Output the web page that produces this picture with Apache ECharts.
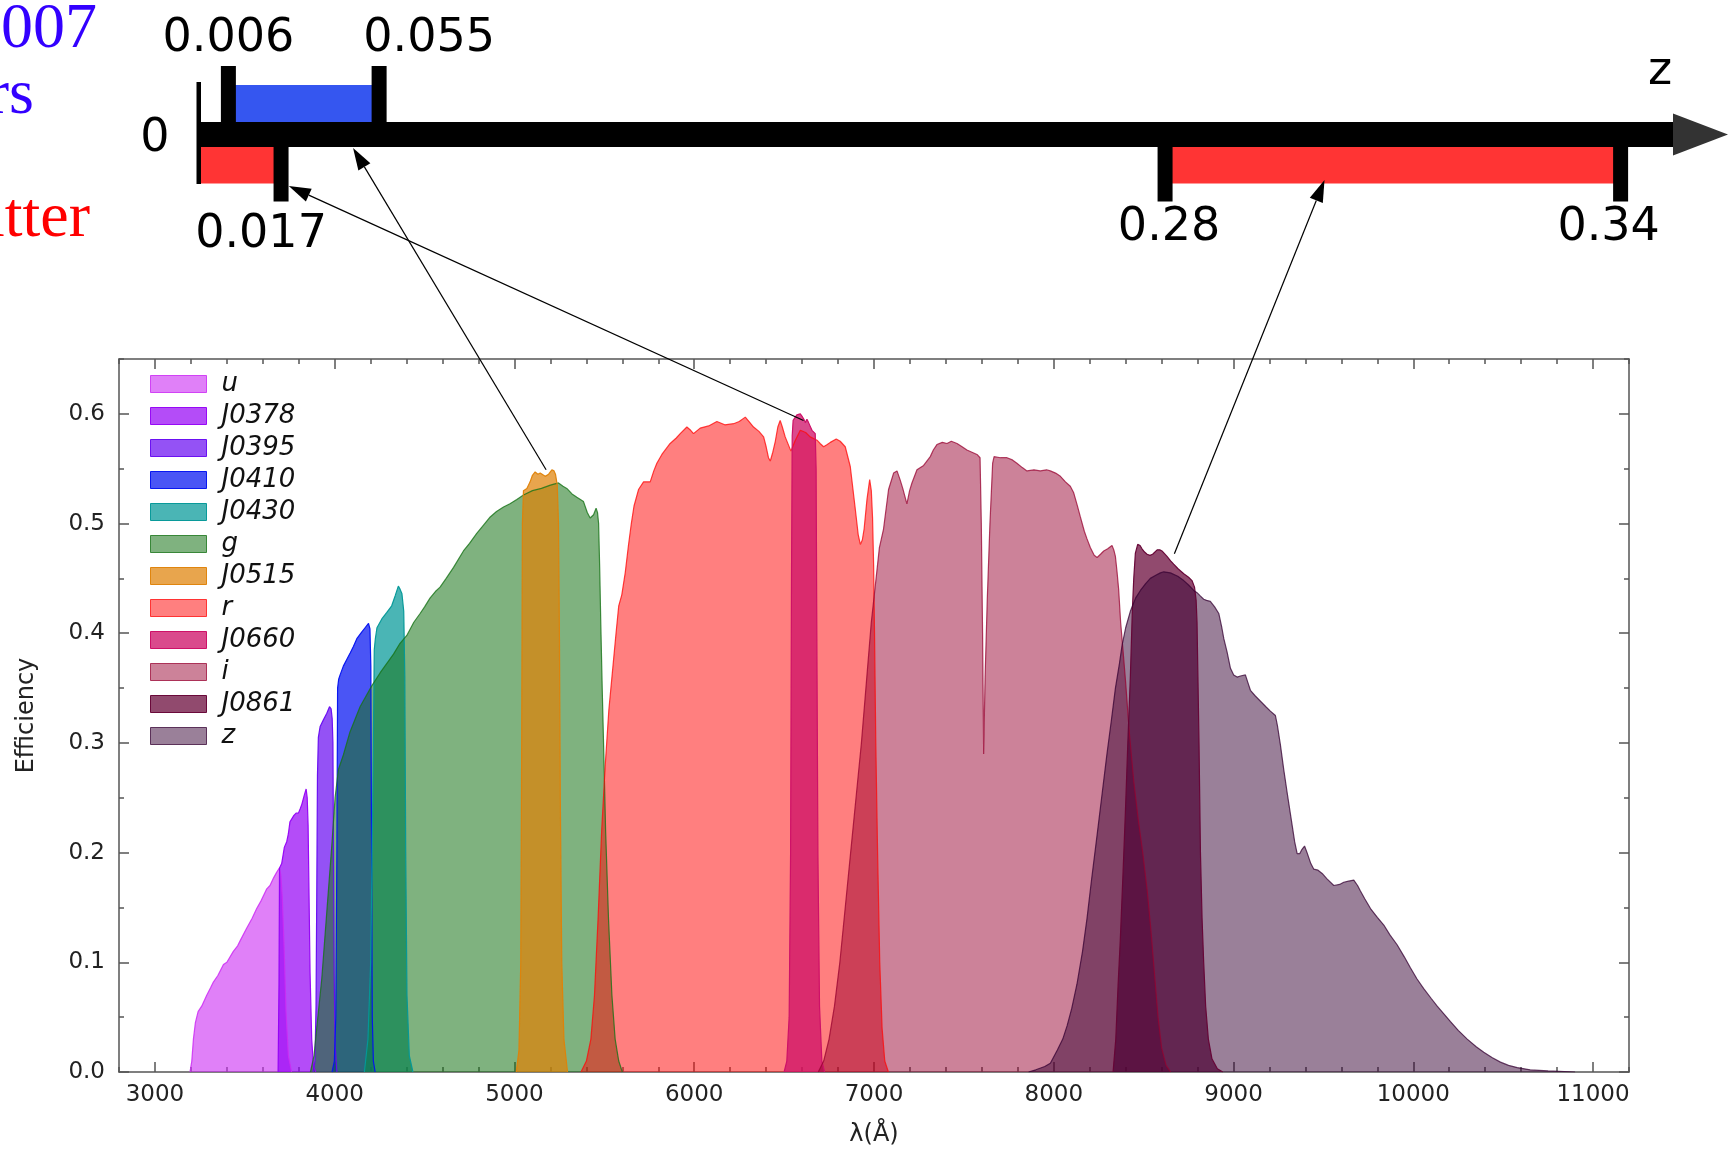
<!DOCTYPE html>
<html>
<head>
<meta charset="utf-8">
<script src="https://cdn.jsdelivr.net/npm/echarts@6/dist/echarts.min.js"></script>
<style>html,body{margin:0;padding:0;background:#fff}#chart{width:1728px;height:1152px}</style>
</head>
<body>
<div id="chart"></div>
<script>
// filter transmission curves, [wavelength in A, efficiency]
var u = [[3195,0],[3205,0.01],[3214,0.03],[3225,0.045],[3240,0.055],[3260,0.06],[3288,0.07],[3310,0.077],[3325,0.082],[3350,0.088],[3381,0.098],[3400,0.1],[3436,0.11],[3460,0.115],[3475,0.12],[3510,0.131],[3540,0.14],[3566,0.149],[3590,0.156],[3622,0.167],[3640,0.17],[3660,0.177],[3677,0.182],[3692,0.186],[3700,0.18],[3708,0.16],[3718,0.116],[3729,0.055],[3742,0.015],[3760,0]];
var j0378 = [[3685,0],[3690,0.08],[3693,0.186],[3705,0.19],[3720,0.205],[3733,0.21],[3742,0.217],[3751,0.228],[3761,0.229],[3773,0.234],[3785,0.236],[3798,0.236],[3808,0.24],[3817,0.244],[3830,0.252],[3841,0.258],[3847,0.25],[3852,0.225],[3856,0.176],[3863,0.09],[3872,0.03],[3882,0.005],[3895,0]];
var j0395 = [[3880,0],[3890,0.01],[3896,0.06],[3900,0.16],[3904,0.27],[3909,0.305],[3919,0.315],[3937,0.321],[3956,0.327],[3971,0.333],[3980,0.331],[3986,0.322],[3990,0.3],[3993,0.21],[3997,0.09],[4002,0.025],[4012,0]];
var j0410 = [[3985,0],[3998,0.01],[4006,0.05],[4012,0.2],[4016,0.35],[4022,0.358],[4030,0.362],[4048,0.37],[4067,0.376],[4086,0.382],[4104,0.388],[4123,0.395],[4150,0.401],[4169,0.405],[4188,0.409],[4196,0.404],[4201,0.37],[4205,0.2],[4209,0.05],[4215,0.01],[4225,0]];
var j0430 = [[4165,0],[4185,0.03],[4200,0.1],[4212,0.25],[4220,0.385],[4226,0.395],[4235,0.405],[4262,0.413],[4290,0.419],[4317,0.425],[4336,0.434],[4354,0.443],[4364,0.44],[4374,0.436],[4384,0.42],[4390,0.36],[4395,0.2],[4402,0.07],[4415,0.015],[4435,0]];
var gBand = [[3865,0],[3885,0.015],[3900,0.04],[3928,0.085],[3956,0.146],[3984,0.207],[4002,0.25],[4021,0.276],[4048,0.289],[4085,0.31],[4141,0.333],[4206,0.352],[4253,0.364],[4327,0.381],[4360,0.39],[4401,0.398],[4440,0.41],[4475,0.418],[4500,0.424],[4530,0.432],[4560,0.438],[4586,0.442],[4620,0.45],[4661,0.46],[4716,0.475],[4750,0.482],[4790,0.491],[4830,0.499],[4865,0.506],[4900,0.511],[4939,0.515],[4975,0.518],[5013,0.522],[5050,0.526],[5100,0.53],[5150,0.532],[5200,0.535],[5245,0.537],[5270,0.534],[5291,0.532],[5320,0.527],[5347,0.524],[5384,0.52],[5405,0.51],[5421,0.505],[5440,0.508],[5454,0.514],[5462,0.51],[5468,0.5],[5474,0.46],[5480,0.41],[5488,0.35],[5497,0.29],[5507,0.22],[5523,0.14],[5542,0.07],[5560,0.03],[5580,0.01],[5600,0]];
var j0515 = [[5010,0],[5025,0.02],[5035,0.1],[5040,0.3],[5044,0.5],[5050,0.53],[5069,0.532],[5087,0.538],[5100,0.544],[5115,0.547],[5130,0.545],[5143,0.546],[5171,0.543],[5190,0.545],[5208,0.549],[5220,0.548],[5228,0.545],[5238,0.535],[5245,0.5],[5250,0.4],[5255,0.25],[5263,0.1],[5275,0.03],[5295,0]];
var rBand = [[5370,0],[5400,0.01],[5425,0.03],[5445,0.07],[5465,0.14],[5485,0.22],[5505,0.28],[5525,0.33],[5545,0.365],[5565,0.4],[5580,0.425],[5597,0.435],[5616,0.455],[5634,0.48],[5650,0.5],[5665,0.516],[5690,0.531],[5718,0.538],[5755,0.538],[5775,0.548],[5792,0.555],[5820,0.563],[5866,0.573],[5900,0.578],[5922,0.582],[5959,0.588],[5980,0.585],[5996,0.582],[6033,0.587],[6080,0.589],[6126,0.593],[6170,0.59],[6219,0.591],[6250,0.593],[6284,0.597],[6305,0.593],[6330,0.588],[6360,0.584],[6386,0.579],[6400,0.57],[6413,0.56],[6423,0.557],[6437,0.565],[6451,0.575],[6465,0.588],[6478,0.594],[6490,0.588],[6506,0.579],[6538,0.566],[6560,0.575],[6590,0.585],[6620,0.583],[6645,0.579],[6683,0.576],[6700,0.573],[6720,0.57],[6740,0.572],[6757,0.574],[6790,0.577],[6812,0.575],[6840,0.57],[6868,0.552],[6896,0.513],[6912,0.49],[6924,0.481],[6935,0.485],[6945,0.495],[6961,0.522],[6976,0.54],[6985,0.53],[6992,0.505],[6998,0.461],[7003,0.4],[7010,0.3],[7020,0.2],[7032,0.1],[7045,0.04],[7060,0.01],[7080,0]];
var j0660 = [[6500,0],[6515,0.01],[6528,0.05],[6536,0.2],[6541,0.45],[6545,0.58],[6550,0.594],[6571,0.599],[6590,0.6],[6599,0.598],[6610,0.595],[6618,0.592],[6627,0.595],[6636,0.592],[6655,0.585],[6673,0.582],[6678,0.55],[6682,0.4],[6688,0.2],[6697,0.06],[6710,0.01],[6725,0]];
var iBand = [[6690,0],[6720,0.01],[6750,0.03],[6780,0.06],[6810,0.1],[6840,0.15],[6870,0.2],[6900,0.25],[6930,0.3],[6960,0.36],[6985,0.41],[7005,0.44],[7030,0.478],[7053,0.495],[7081,0.531],[7109,0.546],[7128,0.548],[7145,0.54],[7160,0.532],[7183,0.518],[7198,0.53],[7211,0.537],[7239,0.549],[7276,0.553],[7313,0.561],[7330,0.567],[7350,0.572],[7380,0.574],[7406,0.573],[7430,0.575],[7462,0.573],[7490,0.57],[7517,0.567],[7545,0.565],[7573,0.563],[7590,0.56],[7597,0.5],[7604,0.4],[7610,0.29],[7618,0.36],[7630,0.43],[7645,0.5],[7660,0.555],[7668,0.561],[7703,0.56],[7740,0.56],[7770,0.558],[7795,0.555],[7825,0.551],[7851,0.548],[7890,0.549],[7925,0.548],[7960,0.549],[7981,0.548],[8010,0.546],[8037,0.543],[8065,0.538],[8092,0.534],[8111,0.528],[8130,0.517],[8148,0.506],[8170,0.493],[8185,0.486],[8204,0.478],[8225,0.471],[8241,0.469],[8260,0.472],[8278,0.475],[8300,0.477],[8324,0.48],[8334,0.476],[8343,0.47],[8352,0.456],[8361,0.44],[8372,0.41],[8385,0.385],[8400,0.355],[8420,0.31],[8445,0.265],[8470,0.23],[8495,0.2],[8520,0.165],[8540,0.13],[8560,0.09],[8580,0.05],[8600,0.022],[8625,0.006],[8650,0]];
var j0861 = [[8330,0],[8345,0.03],[8358,0.08],[8370,0.12],[8385,0.18],[8398,0.235],[8412,0.3],[8426,0.36],[8437,0.42],[8445,0.45],[8454,0.473],[8467,0.481],[8480,0.48],[8491,0.477],[8505,0.474],[8519,0.472],[8535,0.471],[8550,0.472],[8575,0.476],[8590,0.476],[8602,0.475],[8630,0.47],[8650,0.466],[8667,0.463],[8690,0.459],[8704,0.457],[8725,0.454],[8750,0.451],[8769,0.448],[8783,0.442],[8792,0.43],[8797,0.41],[8802,0.36],[8808,0.3],[8816,0.2],[8825,0.14],[8834,0.1],[8845,0.06],[8860,0.03],[8880,0.012],[8910,0.003],[8940,0]];
var zBand = [[7860,0],[7900,0.002],[7950,0.005],[7981,0.008],[8020,0.02],[8050,0.03],[8074,0.042],[8100,0.058],[8129,0.08],[8160,0.11],[8185,0.14],[8210,0.175],[8241,0.216],[8270,0.255],[8296,0.29],[8320,0.32],[8343,0.35],[8365,0.372],[8380,0.389],[8400,0.405],[8426,0.42],[8455,0.432],[8482,0.439],[8510,0.445],[8537,0.45],[8570,0.453],[8593,0.455],[8612,0.456],[8649,0.455],[8690,0.452],[8723,0.448],[8750,0.444],[8779,0.439],[8797,0.437],[8815,0.434],[8834,0.431],[8850,0.43],[8871,0.429],[8895,0.424],[8918,0.418],[8935,0.405],[8946,0.395],[8964,0.383],[8983,0.368],[9001,0.362],[9020,0.36],[9038,0.361],[9066,0.362],[9080,0.355],[9094,0.348],[9120,0.343],[9150,0.338],[9180,0.333],[9205,0.329],[9233,0.325],[9245,0.315],[9261,0.298],[9280,0.275],[9298,0.255],[9326,0.225],[9340,0.21],[9354,0.199],[9368,0.199],[9381,0.203],[9395,0.206],[9409,0.2],[9430,0.19],[9446,0.185],[9470,0.184],[9493,0.181],[9520,0.176],[9558,0.17],[9590,0.171],[9613,0.173],[9640,0.174],[9669,0.175],[9690,0.17],[9706,0.165],[9730,0.158],[9762,0.149],[9800,0.141],[9836,0.134],[9870,0.125],[9910,0.116],[9950,0.105],[9984,0.095],[10020,0.085],[10058,0.076],[10100,0.067],[10133,0.06],[10170,0.053],[10207,0.046],[10250,0.038],[10300,0.03],[10350,0.023],[10392,0.018],[10440,0.013],[10485,0.009],[10530,0.006],[10578,0.004],[10650,0.002],[10750,0.001],[10900,0]];

var filterNames = ['u','J0378','J0395','J0410','J0430','g','J0515','r','J0660','i','J0861','z'];
var filterCurves = [u, j0378, j0395, j0410, j0430, gBand, j0515, rBand, j0660, iBand, j0861, zBand];

var xTickValues = [3000,4000,5000,6000,7000,8000,9000,10000,11000];
var yTickValues = [0,0.1,0.2,0.3,0.4,0.5,0.6];

// redshift sketch
var zAxisExtent = [0, 0.3469];
var zTickValues = [0, 0.006, 0.055, 0.017, 0.28, 0.34];
var zTickSide = [0, 1, 1, -1, -1, -1];
var oiiiRanges = [[0.006, 0.055]];
var haRanges = [[0, 0.017], [0.28, 0.34]];
// arrows: from a filter peak [lambda, eff] to the sketch [z, level]
var arrowFrom = [[5176, 0.549], [6608, 0.594], [8671, 0.4725]];
var arrowTo = [[0.0454, -0.135], [0.0191, -0.515], [0.301, -0.455]];

// fill colours: rgb + alpha
var fillRGBA = [[203,43,243,0.6],[148,0,245,0.7],[102,8,241,0.7],[4,19,241,0.72],[4,152,152,0.72],[22,115,22,0.55],[223,130,9,0.72],[255,9,9,0.52],[206,17,104,0.76],[151,0,47,0.49],[102,4,54,0.72],[53,1,51,0.5]];
function rgba(c, a){ return 'rgba(' + c[0] + ',' + c[1] + ',' + c[2] + ',' + a + ')'; }

var FONT = 'DejaVu Sans';
var frame = {color: '#555', width: 1.5};

var series = [];
for (var k = 0; k < filterNames.length; k++) {
  var c = fillRGBA[k];
  series.push({
    name: filterNames[k], type: 'line', xAxisIndex: 0, yAxisIndex: 0,
    data: filterCurves[k], symbol: 'none', showSymbol: false, silent: true,
    lineStyle: {color: rgba(c, Math.min(1, c[3] + 0.25)), width: 1.2},
    areaStyle: {color: rgba(c, c[3]), opacity: 1},
    itemStyle: {color: rgba(c, c[3])}
  });
}

var rangeData = oiiiRanges.map(function(r){ return [r[0], r[1], 1]; })
  .concat(haRanges.map(function(r){ return [r[0], r[1], -1]; }));
series.push({
  type: 'custom', xAxisIndex: 4, yAxisIndex: 4, silent: true, clip: false, z: 3, data: rangeData,
  renderItem: function(params, api) {
    var a = api.coord([api.value(0), 0]);
    var b = api.coord([api.value(1), 0]);
    var up = api.value(2) > 0;
    return {type: 'rect',
      shape: {x: a[0], y: up ? a[1] - 49.5 : a[1] + 11.5, width: b[0] - a[0], height: 37.5},
      style: {fill: up ? '#3556f0' : '#ff3434'}};
  }
});

// the thick z axis with its arrow head
series.push({
  type: 'custom', xAxisIndex: 4, yAxisIndex: 4, silent: true, clip: false, z: 4, data: [zAxisExtent],
  renderItem: function(params, api) {
    var a = api.coord([api.value(0), 0]);
    var b = api.coord([api.value(1), 0]);
    return {type: 'group', children: [
      {type: 'rect', shape: {x: a[0], y: a[1] - 12.5, width: b[0] - a[0], height: 25}, style: {fill: '#000'}},
      {type: 'polygon', shape: {points: [[b[0], a[1] - 21], [b[0] + 55, a[1]], [b[0], a[1] + 21]]}, style: {fill: '#333'}}
    ]};
  }
});

var labelShift = {'0.055': [50, 0], '0.017': [-20, 7], '0.34': [-12, 0], '0.28': [4, 0], '0': [-44, 0]};
series.push({
  type: 'custom', xAxisIndex: 4, yAxisIndex: 4, silent: true, clip: false, z: 5,
  data: zTickValues.map(function(v, k){ return [v, zTickSide[k]]; }),
  renderItem: function(params, api) {
    var v = api.value(0), side = api.value(1);
    var p = api.coord([v, 0]);
    var txt = String(v);
    var sh = labelShift[txt] || [0, 0];
    var bar, ty;
    if (side > 0) { bar = {x: p[0] - 7.5, y: p[1] - 68.5, width: 15, height: 68.5}; ty = p[1] - 95; }
    else if (side < 0) { bar = {x: p[0] - 7.5, y: p[1], width: 15, height: 67}; ty = p[1] + 93.5; }
    else { bar = {x: p[0] - 2.5, y: p[1] - 52.5, width: 4.5, height: 102}; ty = p[1] + 4.5; }
    return {type: 'group', children: [
      {type: 'rect', shape: bar, style: {fill: '#000'}},
      {type: 'text', style: {text: txt, x: p[0] + sh[0], y: ty + sh[1], fill: '#000',
        font: '46px "' + FONT + '"', align: 'center', verticalAlign: 'middle'}}
    ]};
  }
});

var option = {
  animation: false,
  backgroundColor: '#fff',
  grid: [
    {left: 119, right: 99, top: 359, bottom: 78},
    {left: 199, right: 55, top: 34.5, height: 200}
  ],
  legend: {
    orient: 'vertical', left: 150, top: 371, padding: 0, itemGap: 6,
    itemWidth: 56, itemHeight: 17, icon: 'rect', selectedMode: false,
    textStyle: {fontFamily: FONT, fontStyle: 'italic', fontSize: 26, lineHeight: 26, color: '#111', padding: [0, 0, 0, 10]},
    data: filterNames.map(function(n, k){
      var c = fillRGBA[k];
      return {name: n, itemStyle: {color: rgba(c, c[3]), borderColor: rgba(c, Math.min(1, c[3] + 0.25)), borderWidth: 1}};
    })
  },
  xAxis: [
    {gridIndex: 0, type: 'value', min: 2800, max: 11200, position: 'bottom',
      axisLine: {show: true, onZero: false, lineStyle: frame},
      axisTick: {show: true, inside: true, length: 10, customValues: xTickValues, lineStyle: frame},
      axisLabel: {show: true, customValues: xTickValues, margin: 12, fontFamily: FONT, fontSize: 23, color: '#222',
        formatter: function(v){ return String(v); }},
      splitLine: {show: false},
      name: 'λ(Å)', nameLocation: 'middle', nameGap: 51,
      nameTextStyle: {fontFamily: FONT, fontSize: 24, color: '#222'}},
    {gridIndex: 0, type: 'value', min: 2800, max: 11200, interval: 200, position: 'bottom',
      axisLine: {show: false, onZero: false}, axisTick: {show: true, inside: true, length: 5, lineStyle: frame},
      axisLabel: {show: false}, splitLine: {show: false}},
    {gridIndex: 0, type: 'value', min: 2800, max: 11200, position: 'top',
      axisLine: {show: true, onZero: false, lineStyle: frame},
      axisTick: {show: true, inside: true, length: 10, customValues: xTickValues, lineStyle: frame},
      axisLabel: {show: false}, splitLine: {show: false}},
    {gridIndex: 0, type: 'value', min: 2800, max: 11200, interval: 200, position: 'top',
      axisLine: {show: false, onZero: false}, axisTick: {show: true, inside: true, length: 5, lineStyle: frame},
      axisLabel: {show: false}, splitLine: {show: false}},
    {gridIndex: 1, type: 'value', min: zAxisExtent[0], max: zAxisExtent[1],
      breaks: [
        {start: 0.0005, end: 0.0165, gap: 0.009808},
        {start: 0.0175, end: 0.0545, gap: 0.011915},
        {start: 0.0555, end: 0.2795, gap: 0.10252}
      ],
      breakArea: {show: false},
      axisLine: {show: false}, axisTick: {show: false}, axisLabel: {show: false}, splitLine: {show: false}}
  ],
  yAxis: [
    {gridIndex: 0, type: 'value', min: 0, max: 0.65, position: 'left',
      axisLine: {show: true, onZero: false, lineStyle: frame},
      axisTick: {show: true, inside: true, length: 10, customValues: yTickValues, lineStyle: frame},
      axisLabel: {show: true, customValues: yTickValues, margin: 14, fontFamily: FONT, fontSize: 23, color: '#222',
        formatter: function(v){ return v.toFixed(1); }},
      splitLine: {show: false},
      name: 'Efficiency', nameLocation: 'middle', nameGap: 80,
      nameTextStyle: {fontFamily: FONT, fontSize: 24, color: '#222'}},
    {gridIndex: 0, type: 'value', min: 0, max: 0.65, interval: 0.05, position: 'left',
      axisLine: {show: false, onZero: false}, axisTick: {show: true, inside: true, length: 5, lineStyle: frame},
      axisLabel: {show: false}, splitLine: {show: false}},
    {gridIndex: 0, type: 'value', min: 0, max: 0.65, position: 'right',
      axisLine: {show: true, onZero: false, lineStyle: frame},
      axisTick: {show: true, inside: true, length: 10, customValues: yTickValues, lineStyle: frame},
      axisLabel: {show: false}, splitLine: {show: false}},
    {gridIndex: 0, type: 'value', min: 0, max: 0.65, interval: 0.05, position: 'right',
      axisLine: {show: false, onZero: false}, axisTick: {show: true, inside: true, length: 5, lineStyle: frame},
      axisLabel: {show: false}, splitLine: {show: false}},
    {gridIndex: 1, type: 'value', min: -1, max: 1, show: false}
  ],
  series: series
};

var chart = echarts.init(document.getElementById('chart'), null, {renderer: 'canvas'});
chart.setOption(option);

var SERIF = '64px "Liberation Serif"';
var els = [
  {type: 'text', x: 97, y: 30, style: {text: '[OIII] 5007', font: SERIF, fill: '#3300ff', align: 'right', verticalAlign: 'middle'}},
  {type: 'text', x: 34, y: 96, style: {text: 'emitters', font: SERIF, fill: '#3300ff', align: 'right', verticalAlign: 'middle'}},
  {type: 'text', x: 90, y: 219, style: {text: 'Hα emitter', font: SERIF, fill: '#ff0000', align: 'right', verticalAlign: 'middle'}},
  {type: 'text', x: 1660, y: 72, style: {text: 'z', font: '46px "' + FONT + '"', fill: '#000', align: 'center', verticalAlign: 'middle'}}
];
for (var a = 0; a < arrowFrom.length; a++) {
  var p0 = chart.convertToPixel({xAxisIndex: 0, yAxisIndex: 0}, arrowFrom[a]);
  var p1 = chart.convertToPixel({xAxisIndex: 4, yAxisIndex: 4}, arrowTo[a]);
  var dx = p1[0] - p0[0], dy = p1[1] - p0[1], len = Math.sqrt(dx * dx + dy * dy);
  var ux = dx / len, uy = dy / len, hl = 22, hw = 7;
  var bx = p1[0] - ux * hl, by = p1[1] - uy * hl;
  els.push({type: 'line', z: 100, shape: {x1: p0[0], y1: p0[1], x2: bx, y2: by}, style: {stroke: '#000', lineWidth: 1.2}});
  els.push({type: 'polygon', z: 100, shape: {points: [[p1[0], p1[1]], [bx - uy * hw, by + ux * hw], [bx + uy * hw, by - ux * hw]]}, style: {fill: '#000'}});
}
chart.setOption({graphic: els});
</script>
</body>
</html>
